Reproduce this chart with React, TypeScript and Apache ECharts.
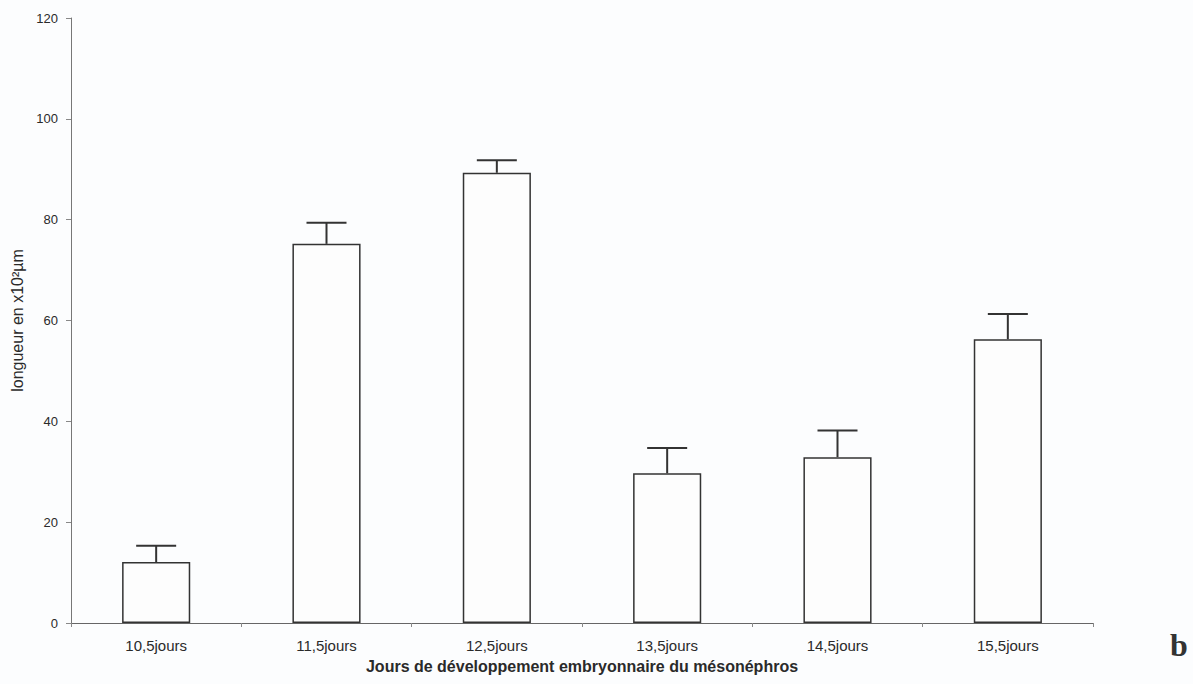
import React, { useEffect, useRef } from "react";
import * as echarts from "echarts";

const categories = ["10,5jours", "11,5jours", "12,5jours", "13,5jours", "14,5jours", "15,5jours"];
const means = [12.1, 75.2, 89.3, 29.7, 32.9, 56.3];
const errorTops = [15.3, 79.4, 91.8, 34.7, 38.2, 61.3];
const yTicks = { min: 0, max: 120, interval: 20 };

export default function App() {
  const ref = useRef<HTMLDivElement>(null);
  useEffect(() => {
    if (!ref.current) return;
    const chart = echarts.init(ref.current, undefined, { renderer: "svg" });
    const errData = categories.map((_, i) => [i, means[i], errorTops[i]]);
    chart.setOption({
      animation: false,
      backgroundColor: "#fcfdfe",
      grid: { left: 71, top: 18, right: 100, bottom: 61, containLabel: false },
      xAxis: {
        type: "category",
        data: categories,
        name: "Jours de développement embryonnaire du mésonéphros",
        nameLocation: "middle",
        nameGap: 35,
        nameTextStyle: { fontFamily: "Liberation Sans", fontSize: 16, fontWeight: "bold", color: "#2a2a2a" },
        axisLine: { lineStyle: { color: "#666", width: 1 } },
        axisTick: { show: true, alignWithLabel: false, length: 4, lineStyle: { color: "#888" } },
        axisLabel: { margin: 15, fontFamily: "Liberation Sans", fontSize: 15, color: "#2a2a2a" },
      },
      yAxis: {
        type: "value",
        min: yTicks.min,
        max: yTicks.max,
        interval: yTicks.interval,
        name: "longueur en x10²µm",
        nameLocation: "middle",
        nameRotate: 90,
        nameGap: 46,
        nameTextStyle: { fontFamily: "Liberation Sans", fontSize: 16, color: "#2a2a2a" },
        axisLine: { show: true, lineStyle: { color: "#777", width: 1 } },
        axisTick: { show: true, inside: false, length: 5, lineStyle: { color: "#888" } },
        axisLabel: { margin: 13, fontFamily: "Liberation Sans", fontSize: 13, color: "#2a2a2a" },
        splitLine: { show: false },
      },
      series: [
        {
          type: "bar",
          data: means,
          barWidth: "40%",
          itemStyle: { color: "#fdfdfd", borderColor: "#333", borderWidth: 1.5 },
        },
        {
          type: "custom",
          data: errData,
          z: 5,
          renderItem: (params: any, api: any) => {
            const idx = api.value(0);
            const base = api.coord([idx, api.value(1)]);
            const top = api.coord([idx, api.value(2)]);
            const half = 20;
            const style = { stroke: "#333", lineWidth: 2 };
            return {
              type: "group",
              children: [
                { type: "line", shape: { x1: base[0], y1: base[1], x2: top[0], y2: top[1] }, style },
                { type: "line", shape: { x1: top[0] - half, y1: top[1], x2: top[0] + half, y2: top[1] }, style },
              ],
            };
          },
        },
      ],
      graphic: [
        {
          type: "text",
          left: 1170,
          top: 629,
          style: { text: "b", font: "bold 32px 'Liberation Serif'", fill: "#333" },
        },
      ],
    });
    return () => chart.dispose();
  }, []);
  return <div ref={ref} style={{ position: "absolute", left: 0, top: 0, width: 1193, height: 684 }} />;
}
